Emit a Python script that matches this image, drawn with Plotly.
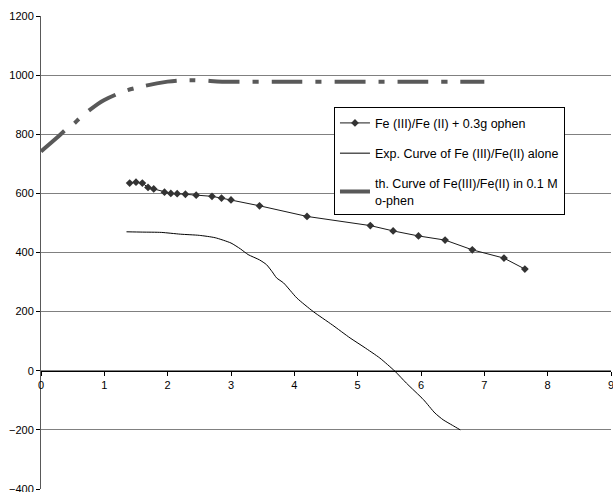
import plotly.graph_objects as go

# ---- data ----
ophen_x = [1.40, 1.50, 1.60, 1.69, 1.78, 1.95, 2.05, 2.15, 2.28, 2.45, 2.70, 2.85, 3.00, 3.45, 4.20, 5.20, 5.56, 5.96, 6.38, 6.81, 7.31, 7.64]
ophen_y = [635, 638, 635, 620, 615, 604, 600, 599, 597, 594, 590, 584, 578, 558, 522, 491, 473, 456, 442, 409, 381, 344]

alone_x = [1.35, 1.6, 1.9, 2.2, 2.5, 2.75, 3.0, 3.15, 3.27, 3.45, 3.56, 3.65, 3.72, 3.83, 4.04, 4.3, 4.6, 4.88, 5.1, 5.35, 5.59, 5.77, 6.04, 6.22, 6.35, 6.5, 6.62]
alone_y = [470, 469, 468, 462, 458, 450, 432, 412, 393, 375, 359, 335, 314, 297, 246, 200, 155, 111, 80, 43, -2, -42, -98, -143, -166, -185, -200]

th_x = [0, 0.25, 0.41, 0.5, 0.64, 0.9, 1.0, 1.31, 1.52, 1.6, 1.83, 2.0, 2.2, 2.35, 2.55, 2.86, 3.5, 4.0, 5.0, 6.0, 7.0]
th_y = [742, 788, 819, 832, 860, 903, 916, 945, 958, 962, 972, 978, 982, 983, 982, 978, 978, 978, 978, 978, 978]

names = ["Fe (III)/Fe (II) + 0.3g ophen",
         "Exp. Curve of Fe (III)/Fe(II) alone",
         "th. Curve of Fe(III)/Fe(II) in 0.1 M<br>o-phen"]

x_ticks = list(range(0, 10))
y_ticks = list(range(-400, 1201, 200))
grid_ticks = list(range(-400, 1001, 200))

FONT = "Arial, Liberation Sans, sans-serif"

fig = go.Figure()
fig.add_trace(go.Scatter(x=ophen_x, y=ophen_y, mode="lines+markers", name=names[0],
                         legendgroup="a",
                         line=dict(color="#1a1a1a", width=1),
                         marker=dict(symbol="diamond", size=6, color="#333333")))
fig.add_trace(go.Scatter(x=alone_x, y=alone_y, mode="lines", name=names[1],
                         legendgroup="b",
                         line=dict(color="black", width=1, shape="spline", smoothing=0.6)))
fig.add_trace(go.Scatter(x=th_x, y=th_y, mode="lines", name=names[2],
                         legendgroup="c",
                         line=dict(color="#595959", width=4, dash="31px,13px,6px,13px", shape="spline")))
# invisible trace on overlay axis for grid lines
fig.add_trace(go.Scatter(x=[0], y=[0], yaxis="y2", mode="markers",
                         marker=dict(opacity=0), showlegend=False, hoverinfo="skip"))

fig.update_layout(
    width=613, height=492,
    margin=dict(l=41, r=2, t=16, b=3),
    paper_bgcolor="white", plot_bgcolor="white",
    font=dict(family=FONT, size=11, color="black"),
    showlegend=True,
    legend=dict(x=0.514, y=0.807, xanchor="left", yanchor="top",
                bgcolor="white", bordercolor="black", borderwidth=1,
                font=dict(family=FONT, size=12.5, color="black"),
                tracegroupgap=11, itemwidth=30),
    xaxis=dict(range=[0, 9], tickvals=x_ticks, ticktext=[str(v) for v in x_ticks],
               anchor="free", position=0.25, automargin=False,
               ticklabeloverflow="allow",
               showline=True, linecolor="black", linewidth=1,
               ticks="outside", ticklen=4, tickcolor="black",
               showgrid=False, zeroline=False,
               tickfont=dict(size=11)),
    yaxis=dict(range=[-400, 1200], tickvals=y_ticks, automargin=False,
               ticklabeloverflow="allow",
               showline=True, linecolor="#595959", linewidth=1,
               ticks="outside", ticklen=4, tickcolor="black",
               showgrid=False, zeroline=False,
               tickfont=dict(size=11)),
    yaxis2=dict(range=[-400, 1200], tickvals=grid_ticks, overlaying="y",
                automargin=False,
                showgrid=True, gridcolor="#808080", gridwidth=1,
                showticklabels=False, ticks="", zeroline=False, showline=False,
                layer="below traces"),
)

fig.write_html("out.html",
               config={"displayModeBar": False},
               post_script="document.body.style.margin='0';document.body.style.overflow='hidden';")
